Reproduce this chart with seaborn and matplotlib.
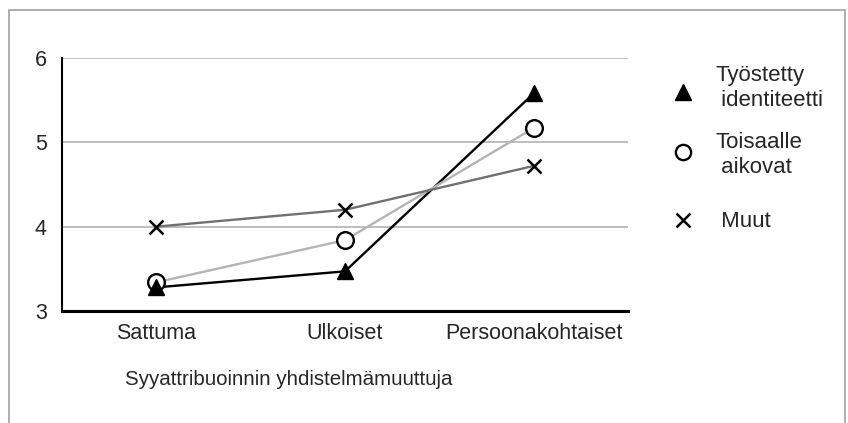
import pandas as pd
import seaborn as sns
import matplotlib.pyplot as plt
from matplotlib.lines import Line2D
from matplotlib.patches import Rectangle

categories = ["Sattuma", "Ulkoiset", "Persoonakohtaiset"]
groups = ["Työstetty\n identiteetti", "Toisaalle\n aikovat", " Muut"]
tyostetty = [3.28, 3.47, 5.58]
toisaalle = [3.34, 3.84, 5.17]
muut = [4.00, 4.20, 4.72]
yticks = [3, 4, 5, 6]


def main():
    rows = []
    for g, vals in zip(groups, [tyostetty, toisaalle, muut]):
        for i, v in enumerate(vals):
            rows.append({"x": i, "arvo": v, "ryhma": g})
    df = pd.DataFrame(rows)

    sns.set_style("white")
    plt.rcParams["font.family"] = ["Liberation Sans", "DejaVu Sans"]

    fig = plt.figure(figsize=(8.48, 4.23), dpi=100)
    fig.patches.append(Rectangle((0.011, -0.01), 0.985, 0.986, transform=fig.transFigure,
                                 fill=False, edgecolor="#a0a0a0", linewidth=1.2))
    ax = fig.add_axes([0.0731, 0.2648, 0.6675, 0.5981])

    line_colors = ["#000000", "#b4b4b4", "#707070"]
    markers = ["^", "o", "x"]
    sns.lineplot(data=df, x="x", y="arvo", hue="ryhma", hue_order=groups,
                 palette=line_colors, legend=False, ax=ax, linewidth=1.7, zorder=3)

    # markers drawn separately in black
    for g, m in zip(groups, markers):
        sub = df[df["ryhma"] == g]
        if m == "o":
            ax.plot(sub["x"], sub["arvo"], linestyle="none", marker=m, markersize=12,
                    markerfacecolor="white", markeredgecolor="black", markeredgewidth=1.7, zorder=4)
        elif m == "x":
            ax.plot(sub["x"], sub["arvo"], linestyle="none", marker=m, markersize=10.5,
                    color="black", markeredgewidth=1.8, zorder=4)
        else:
            ax.plot(sub["x"], sub["arvo"], linestyle="none", marker=m, markersize=11.5,
                    color="black", zorder=5)

    ax.set_xlim(-0.5, 2.5)
    ax.set_ylim(3, 6)
    ax.set_yticks(yticks)
    ax.set_yticklabels([str(t) for t in yticks], fontsize=15.5)
    ax.set_xticks(range(len(categories)))
    ax.set_xticklabels(categories, fontsize=15.5)
    ax.set_xticks([0.5, 1.5], minor=True)
    ax.tick_params(axis="x", which="major", length=0, pad=9)
    ax.tick_params(axis="x", which="minor", length=6, width=1.5, direction="out", color="black")
    ax.tick_params(axis="y", which="major", length=5, width=1.2, direction="out", color="black", pad=6)
    for y in yticks[1:]:
        ax.axhline(y, color="#b8b8b8", linewidth=1.3, zorder=1)
    sns.despine(ax=ax, top=True, right=True)
    ax.spines["left"].set_color("black")
    ax.spines["left"].set_linewidth(1.5)
    ax.spines["bottom"].set_color("black")
    ax.spines["bottom"].set_linewidth(2.2)
    ax.set_xlabel("")
    ax.set_ylabel("")

    fig.text(0.147, 0.1017, "Syyattribuoinnin yhdistelmämuuttuja", fontsize=14.8,
             ha="left", va="center")

    # legend placed by hand, markers left of multi-line labels
    leg_marker_x = 0.8054
    leg_text_x = 0.8432
    marker_y = [0.7825, 0.6407, 0.4799]
    text_y = [0.792, 0.6336, 0.4752]
    styles = [
        dict(marker="^", markersize=11, color="black"),
        dict(marker="o", markersize=11, markerfacecolor="white", markeredgecolor="black",
             markeredgewidth=1.7),
        dict(marker="x", markersize=10, color="black", markeredgewidth=1.8),
    ]
    for g, my, ty, st in zip(groups, marker_y, text_y, styles):
        fig.add_artist(Line2D([leg_marker_x], [my], linestyle="none",
                              transform=fig.transFigure, **st))
        fig.text(leg_text_x, ty, g, fontsize=16, ha="left", va="center", linespacing=1.25)

    fig.savefig("out.png", dpi=100)


if __name__ == "__main__":
    main()
